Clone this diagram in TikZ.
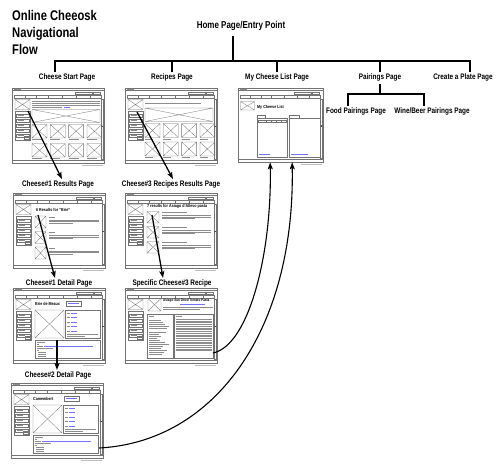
\documentclass[tikz,border=0pt]{standalone}
\usepackage{fontspec}
\setmainfont{Liberation Sans}[FakeStretch=0.85]
\newfontfamily\labelfont{Liberation Sans}[FakeStretch=0.8]
\usetikzlibrary{arrows.meta,positioning,calc}

\tikzset{
  wire/.style={draw=black!55,line width=0.3pt},
  txtl/.style={black!45,line width=0.55pt},
  lnk/.style={blue!55,line width=0.5pt},
  tree/.style={line width=1.3pt},
  flow/.style={line width=1.3pt,-{Stealth[length=7pt,width=5pt,inset=1.5pt]}},
  lbl/.style={font=\labelfont\bfseries\fontsize{8}{9}\selectfont,inner sep=1pt},
  thumb/.style={wire,anchor=north west,inner sep=0pt,minimum width=92pt,minimum height=75pt},
  thead/.style={font=\fontsize{4.3}{5}\selectfont\bfseries,anchor=west,inner sep=0pt},
  pics/xbox/.style 2 args={code={
    \draw[wire] (0,0) rectangle (#1,#2) (0,0) -- (#1,#2) (#1,0) -- (0,#2);}},
  pics/chrome/.style 2 args={code={
    \draw[wire] (0,2.5) -- (#1,2.5);
    \draw[txtl,line width=0.4pt] (1.5,1.3) -- (9,1.3);
    \draw[wire] (#1-29,3.7) rectangle (#1-12,6.2);
    \draw[wire] (#1-10.5,3.7) rectangle (#1-4,6.2);
    \draw[wire] (2,7.5) rectangle (#1-3,10.5);
    \foreach \f in {0.13,0.26,0.39,0.55,0.71,0.87}
      \draw[wire] ({2+\f*(#1-5)},7.5) -- ++(0,3);
    \draw[wire] (#1-2.6,11) rectangle (#1-0.6,#2-4);
    \fill[black!70] (#1-2.6,{#2*0.5}) rectangle (#1-0.6,{#2*0.5+1.8});
    \draw[wire] (0,#2-2.5) -- (#1,#2-2.5);
    \draw[txtl,black!25] (#1-22,#2+2.2) -- (#1-1,#2+2.2);}},
  pics/sidebar/.style={code={
    \pic at (3,11.5) {xbox={15}{10}};
    \draw[wire] (3,23.5) rectangle (18.5,52);
    \foreach \yy in {26,31,36,41,46} {
      \draw[wire] (4.5,\yy) rectangle (17,\yy+3);
      \draw[txtl,line width=0.35pt] (5.5,\yy+1.5) -- (12,\yy+1.5);}
    \draw[wire] (12,48.3) rectangle (17.5,51);}},
  pics/startbody/.style={code={
    \foreach \yy in {13,15,17} \draw[txtl,line width=0.4pt] (20,\yy) -- (88,\yy);
    \draw[txtl,line width=0.4pt] (20,19) -- (50,19);
    \draw[lnk] (52,19) -- (58,19);
    \pic at (20,21.5) {xbox={68}{13}};
    \foreach \c in {0,1,2,3} \foreach \r in {0,1} {
      \pic at ({20+\c*18.3},{36.5+\r*19}) {xbox={15}{13.5}};
      \draw[txtl,line width=0.35pt] ({20+\c*18.3},{51.5+\r*19}) -- ++(10,0);}}},
  pics/recipesbody/.style={code={
    \draw[txtl,line width=0.4pt] (20,15) -- (76,15);
    \pic at (20,20) {xbox={68}{13.5}};
    \foreach \c in {0,1,2,3} \foreach \r in {0,1} {
      \pic at ({20+\c*18.3},{35.5+\r*18.5}) {xbox={15}{14}};
      \draw[txtl,line width=0.35pt] ({20+\c*18.3},{51+\r*18.5}) -- ++(8,0);}}},
  pics/resbody/.style={code={
    \foreach \yy in {23,38.5,54} {
      \pic at (22,\yy) {xbox={11}{12}};
      \draw[txtl] (36,\yy+1) -- (42,\yy+1);
      \draw[txtl,line width=0.4pt] (36,\yy+4) -- (86,\yy+4);
      \draw[txtl,line width=0.4pt] (36,\yy+5.5) -- (86,\yy+5.5);
      \draw[txtl,line width=0.4pt] (36,\yy+7) -- (60,\yy+7);}}},
  pics/recresbody/.style={code={
    \foreach \yy in {18.5,33.5,48.5} {
      \pic at (22,\yy) {xbox={12}{11.5}};
      \draw[txtl] (37,\yy+1) -- (62,\yy+1);
      \draw[txtl,line width=0.4pt] (37,\yy+4) -- (86,\yy+4);
      \draw[txtl,line width=0.4pt] (37,\yy+5.5) -- (86,\yy+5.5);
      \draw[txtl,line width=0.4pt] (37,\yy+7) -- (70,\yy+7);}}},
  pics/detbody/.style={code={
    \draw[wire] (53,13) rectangle (68,18);
    \draw[lnk,line width=0.4pt] (55,15.5) -- (66,15.5);
    \pic at (22,22) {xbox={29}{28}};
    \draw[wire] (52.5,22) rectangle (87,50);
    \foreach \yy in {25,29.5,34,38.5,43} {
      \draw[txtl,line width=0.4pt] (54,\yy) -- (57,\yy);
      \draw[lnk,line width=0.4pt] (58,\yy) -- (64,\yy);}
    \draw[txtl,line width=0.4pt] (54,46.5) -- (85,46.5) (54,48) -- (72,48);
    \draw[wire] (22,52) rectangle (87,70.5);
    \draw[txtl,line width=0.4pt] (23.5,54) -- (32,54) (23.5,56) -- (26,56)
      (23.5,58) -- (30,58) (23.5,60) -- (40,60) (23.5,62) -- (26,62);
    \draw[lnk,line width=0.4pt] (31,58) -- (80,58);
    \foreach \yy in {64,66,68} \draw[txtl,line width=0.4pt] (25,\yy) -- (33,\yy);}},
  pics/recipebody/.style={code={
    \pic at (23,10.5) {xbox={13}{12.5}};
    \draw[lnk] (55,16) -- (80,16);
    \draw[txtl,line width=0.4pt] (38,19) -- (88,19) (38,20.7) -- (75,20.7);
    \draw[wire] (22,26.5) rectangle (48,70);
    \draw[txtl] (23.5,28.5) -- (29,28.5);
    \foreach \yy/\len in {32/12,34/14,36/16,38/20,40/18,44/17,46/10,48/12,50/8,
        52/11,54/16,56/20,58/14,60/12,62/18,64/15,66/13}
      \draw[txtl,line width=0.35pt] (24,\yy) -- ++(\len,0);
    \draw[wire] (49,26.5) rectangle (88,70);
    \draw[txtl] (50.5,28.5) -- (57,28.5);
    \foreach \k in {0,...,18}
      \draw[txtl,line width=0.35pt] (50.5,{31+\k*1.75}) -- (86.5,{31+\k*1.75});}},
  pics/listbody/.style={code={
    \pic at (2.5,13.5) {xbox={14}{8.5}};
    \draw[wire] (19,27) rectangle (27,30) (19,30) rectangle (49,69);
    \draw[wire] (51,27) rectangle (61,30) (51,30) rectangle (82,69);
    \draw[wire] (20,32) rectangle (48,34.5);
    \foreach \x in {28,33,38,43} \draw[wire] (\x,32) -- (\x,34.5);
    \draw[lnk] (20.5,66) -- (32,66) (52.5,66) -- (70,66);}},
}

\begin{document}
\begin{tikzpicture}[x=1pt,y=-1pt]
  \useasboundingbox (0,0) rectangle (500,472);
  % title and site tree
  \node[font=\labelfont\bfseries\fontsize{14}{17}\selectfont,align=left,anchor=north west,inner sep=0pt] (title) at (12,10) {Online Cheeosk\\Navigational\\Flow};
  \node[lbl,font=\labelfont\bfseries\fontsize{10}{11}\selectfont] (home) at (241,26) {Home Page/Entry Point};
  \node[lbl] (startlbl) at (67,77) {Cheese Start Page};
  \node[lbl] (recipelbl) at (172,77) {Recipes Page};
  \node[lbl] (listlbl) at (277,77) {My Cheese List Page};
  \node[lbl] (pairlbl) at (380,77) {Pairings Page};
  \node[lbl] (platelbl) at (463,77) {Create a Plate Page};
  \node[lbl] (foodlbl) at (356,111) {Food Pairings Page};
  \node[lbl] (winelbl) at (432,111) {Wine/Beer Pairings Page};
  \coordinate (hub) at (233,61);
  \coordinate (busL) at (55,61);
  \coordinate (busR) at (470,61);
  \draw[tree] ([yshift=-4pt]home.south -| hub) -- (hub);
  \draw[tree] (busL |- startlbl.north) -- (busL) -- (busR) -- (busR |- platelbl.north);
  \foreach \n in {recipelbl,listlbl,pairlbl}
    \draw[tree] (\n.north) -- (\n.north |- busL);
  \coordinate (pbusL) at (348,94);
  \coordinate (pbusR) at (424,94);
  \draw[tree] ([yshift=-2pt]pairlbl.south) -- (pairlbl.south |- pbusL);
  \draw[tree] (pbusL |- foodlbl.north) -- (pbusL) -- (pbusR) -- (pbusR |- winelbl.north);

  % page thumbnails
  \node[thumb] (startpg) at (12,88) {};
  \pic at (startpg.north west) {chrome={92}{75}};
  \pic at (startpg.north west) {sidebar};
  \pic at (startpg.north west) {startbody};

  \node[thumb] (recipespg) at (125,88) {};
  \pic at (recipespg.north west) {chrome={92}{75}};
  \pic at (recipespg.north west) {sidebar};
  \pic at (recipespg.north west) {recipesbody};

  \node[thumb,minimum width=85pt,minimum height=74pt] (listpg) at (238,88) {};
  \pic at (listpg.north west) {chrome={85}{74}};
  \pic at (listpg.north west) {listbody};
  \node[thead] (listh) at ([shift={(19,19)}]listpg.north west) {My Cheese List};

  \node[lbl] (res1lbl) at (58,184) {Cheese\#1 Results Page};
  \node[thumb] (res1pg) at (13,193) {};
  \pic at (res1pg.north west) {chrome={92}{75}};
  \pic at (res1pg.north west) {sidebar};
  \pic at (res1pg.north west) {resbody};
  \node[thead] (res1h) at ([shift={(23,17)}]res1pg.north west) {6 Results for "Brie"};

  \node[lbl] (recreslbl) at (171,184) {Cheese\#3 Recipes Results Page};
  \node[thumb] (recrespg) at (125,193) {};
  \pic at (recrespg.north west) {chrome={92}{75}};
  \pic at (recrespg.north west) {sidebar};
  \pic at (recrespg.north west) {recresbody};
  \node[thead] (recresh) at ([shift={(22,13.5)}]recrespg.north west) {7 results for Asiago d'Allevo pasta};

  \node[lbl] (det1lbl) at (59,283) {Cheese\#1 Detail Page};
  \node[thumb] (det1pg) at (13,288) {};
  \pic at (det1pg.north west) {chrome={92}{75}};
  \pic at (det1pg.north west) {sidebar};
  \pic at (det1pg.north west) {detbody};
  \node[thead] (det1h) at ([shift={(22,16)}]det1pg.north west) {Brie de Meaux};

  \node[lbl] (reciplbl) at (172,283) {Specific Cheese\#3 Recipe};
  \node[thumb] (recipepg) at (125,288) {};
  \pic at (recipepg.north west) {chrome={92}{75}};
  \pic at (recipepg.north west) {sidebar};
  \pic at (recipepg.north west) {recipebody};
  \node[thead,font=\fontsize{3.6}{4}\selectfont\bfseries] (reciph) at ([shift={(38,13)}]recipepg.north west) {Asiago Sun Dried Tomato Pasta};

  \node[lbl] (det2lbl) at (58,375) {Cheese\#2 Detail Page};
  \node[thumb] (det2pg) at (11,383) {};
  \pic at (det2pg.north west) {chrome={92}{75}};
  \pic at (det2pg.north west) {sidebar};
  \pic at (det2pg.north west) {detbody};
  \node[thead] (det2h) at ([shift={(22,16)}]det2pg.north west) {Camembert};

  % navigation arrows
  \coordinate (startsel) at ([shift={(16,23)}]startpg.north west);
  \coordinate (recipesel) at ([shift={(12,24)}]recipespg.north west);
  \coordinate (res1sel) at ([shift={(25,22)}]res1pg.north west);
  \coordinate (recressel) at ([shift={(27,22)}]recrespg.north west);
  \coordinate (det1sel) at ([shift={(44,52)}]det1pg.north west);
  \coordinate (recipeout) at ([shift={(88,65)}]recipepg.north west);
  \coordinate (det2out) at ([shift={(88,65)}]det2pg.north west);
  \draw[flow] (startsel) -- ([xshift=4pt]res1lbl.north);
  \draw[flow] (recipesel) -- ([xshift=2pt]recreslbl.north);
  \draw[flow] (res1sel) -- ([xshift=-4pt]det1lbl.north);
  \draw[flow] (recressel) -- ([xshift=-9pt]reciplbl.north);
  \draw[flow] (det1sel) -- (det1sel |- det2lbl.north);
  \draw[flow,line width=1.1pt] (recipeout) .. controls (250,345) and (272,250) .. ([xshift=-10.5pt]listpg.south);
  \draw[flow,line width=1.1pt] (det2out) .. controls (215,442) and (295,330) .. ([xshift=11.5pt]listpg.south);
\end{tikzpicture}
\end{document}
